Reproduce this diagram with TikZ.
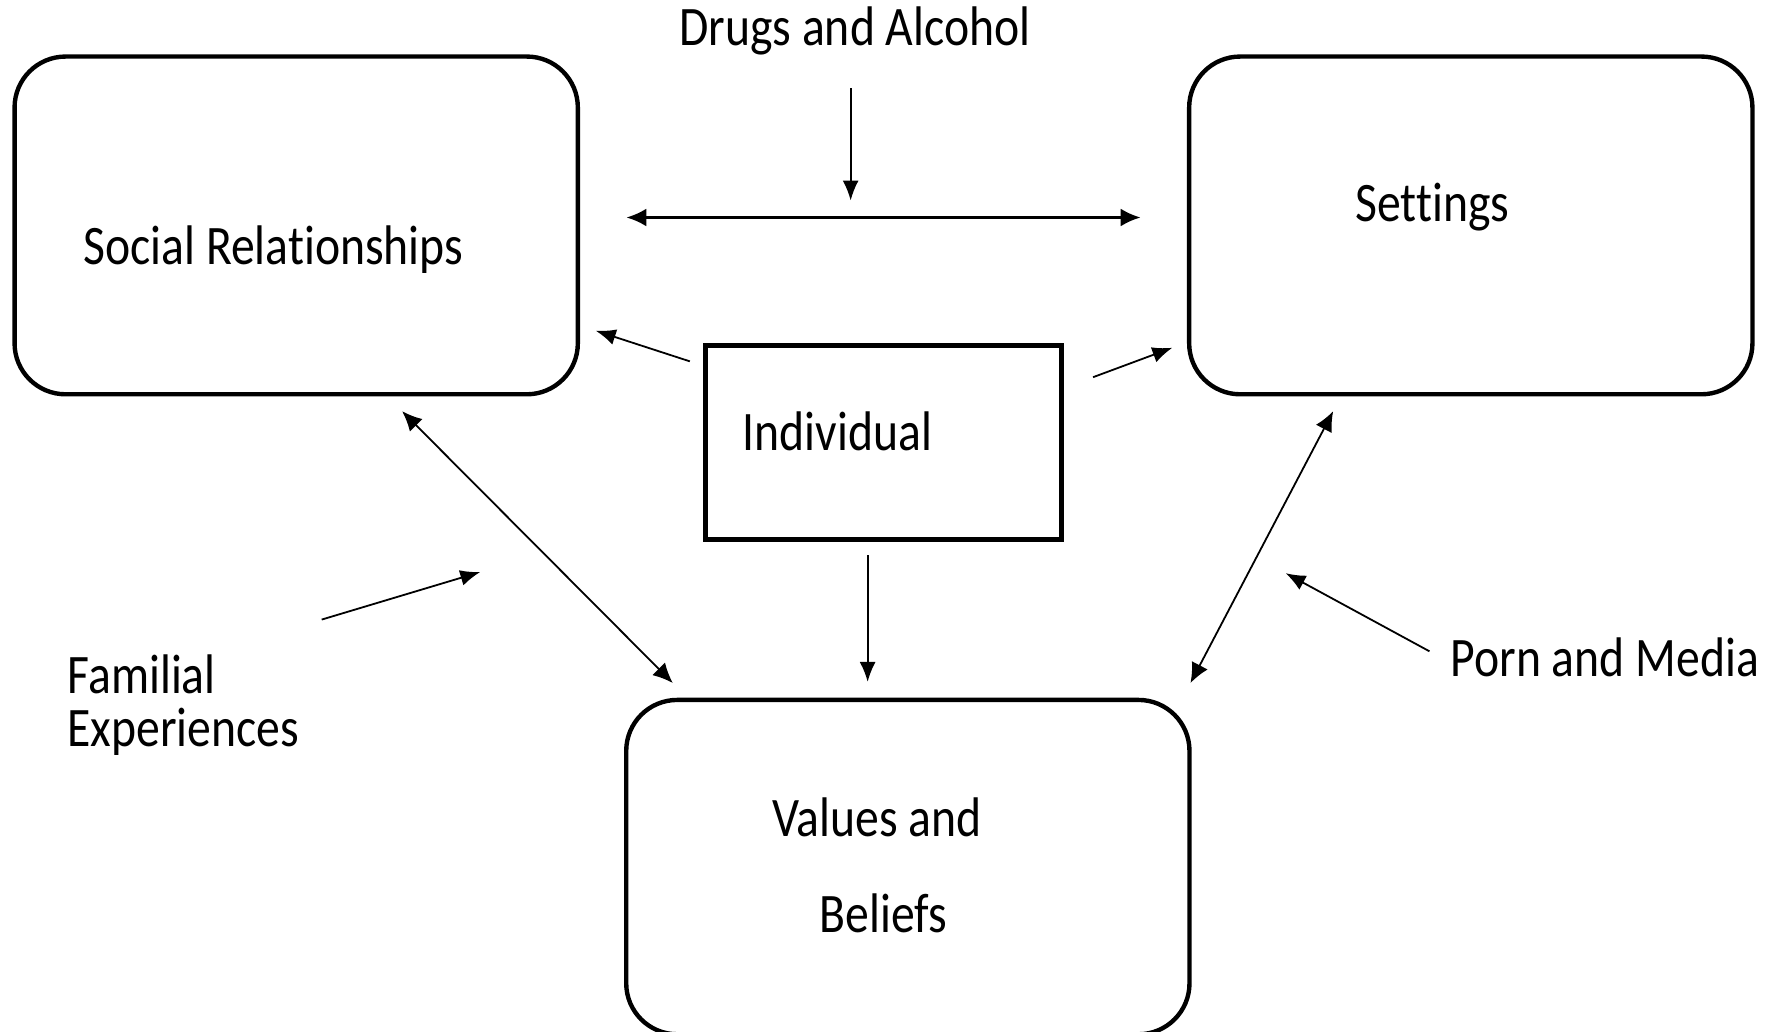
\documentclass[tikz,border=0pt]{standalone}
\usepackage{fontspec}
\setmainfont{Carlito}[FakeStretch=0.855,Ligatures=NoCommon]
\usetikzlibrary{arrows.meta}
\begin{document}
\begin{tikzpicture}[x=0.01cm,y=-0.01cm,
  bigbox/.style={draw,line width=1.1pt,rounded corners=0.45cm,inner sep=0pt},
  indbox/.style={draw,line width=1.2pt,inner sep=0pt},
  lbl/.style={font=\fontsize{14}{17}\selectfont,inner sep=0pt,anchor=west},
  arr/.style={line width=0.45pt,-{Latex[length=5pt,width=4pt]}},
  darr/.style={line width=0.7pt,{Latex[length=5pt,width=4.5pt]}-{Latex[length=5pt,width=4.5pt]}}]
\useasboundingbox (0,0) rectangle (1560,911);
% boxes
\node[bigbox,minimum width=4.97cm,minimum height=2.98cm] (social) at (261.5,199) {};
\node[bigbox,minimum width=4.97cm,minimum height=2.98cm] (settings) at (1298.5,199) {};
\node[bigbox,minimum width=4.97cm,minimum height=2.95cm] (values) at (801.5,765.5) {};
\node[indbox,minimum width=3.14cm,minimum height=1.71cm] (indiv) at (780,390.5) {};
% texts
\node[lbl] (tsocial) at (73,220) {Social Relationships};
\node[lbl] (tsettings) at (1196,183) {Settings};
\node[lbl] (tindiv) at (655,381) {Individual};
\node[lbl] (tvalues1) at (681,722) {Values and};
\node[lbl] (tvalues2) at (723,806) {Beliefs};
\node[lbl] (tdrugs) at (599,27) {Drugs and Alcohol};
\node[lbl] (tfam1) at (59,595) {Familial};
\node[lbl] (tfam2) at (59,646) {Experiences};
\node[lbl] (tporn) at (1280,580) {Porn and Media};
% connector coordinates
\coordinate (d1) at (751,78);
\coordinate (d2) at (751,177);
\coordinate (h1) at (553,192);
\coordinate (h2) at (1007,192);
\coordinate (is1) at (609,319);
\coordinate (is2) at (526,292);
\coordinate (it1) at (965,333);
\coordinate (it2) at (1035,307);
\coordinate (sv1) at (355,363);
\coordinate (sv2) at (594,603);
\coordinate (tv1) at (1177,363);
\coordinate (tv2) at (1051,603);
\coordinate (iv1) at (766,490);
\coordinate (iv2) at (766,602);
\coordinate (f1) at (284,547);
\coordinate (f2) at (424,505);
\coordinate (p1) at (1262,575);
\coordinate (p2) at (1135,506);
% connectors
\draw[arr] (d1) -- (d2);
\draw[darr] (h1) -- (h2);
\draw[arr] (is1) -- (is2);
\draw[arr] (it1) -- (it2);
\draw[darr,line width=0.45pt] (sv1) -- (sv2);
\draw[darr,line width=0.45pt] (tv1) -- (tv2);
\draw[arr] (iv1) -- (iv2);
\draw[arr] (f1) -- (f2);
\draw[arr] (p1) -- (p2);
\end{tikzpicture}
\end{document}
